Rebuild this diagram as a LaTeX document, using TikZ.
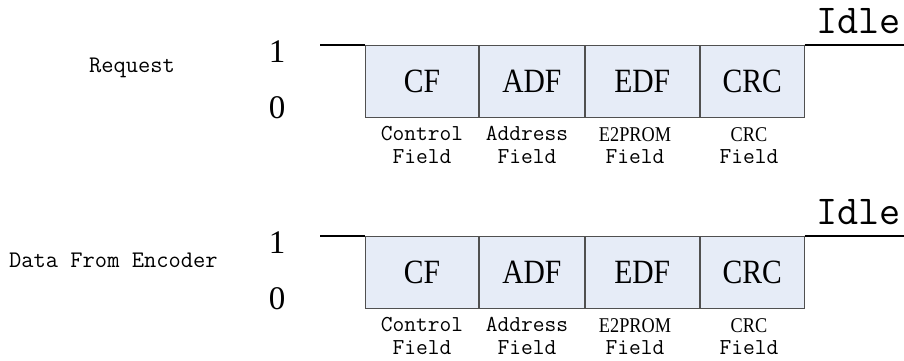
\documentclass[tikz,border=0pt]{standalone}
\usepackage{fontspec}
\setmainfont{Liberation Serif}
\newfontfamily\boxfont[FakeStretch=0.87]{Liberation Serif}
\definecolor{boxfill}{HTML}{E6ECF7}
\definecolor{boxline}{HTML}{505050}
\tikzset{
  fieldbox/.style={draw=boxline, line width=0.9pt, fill=boxfill, minimum height=72pt,
    inner sep=0pt, anchor=north west, font=\boxfont\fontsize{34}{34}\selectfont},
  sigline/.style={line width=2pt, black},
  levellabel/.style={font=\fontsize{33}{33}\selectfont, inner sep=0pt},
  rowlabel/.style={font=\ttfamily\fontsize{23.8}{26}\selectfont, inner sep=0pt, anchor=base west},
  idlelabel/.style={font=\ttfamily\fontsize{41}{44}\selectfont, inner sep=0pt, anchor=base west},
  fieldlabel/.style={font=\ttfamily\fontsize{22.8}{25}\selectfont, inner sep=0pt, anchor=base},
  fieldlabelserif/.style={font=\boxfont\fontsize{21}{23}\selectfont, inner sep=0pt, anchor=base},
}
\newcommand\framerow[5]{% #1 prefix, #2 y offset, #3 row name, #4 name x, #5 name baseline
  \node[rowlabel] (#1name) at (#4, #5) {#3};
  \node[levellabel] (#1one) at (277, #2+52) {1};
  \node[levellabel] (#1zero) at (277, #2+108) {0};
  \node[fieldbox, minimum width=113pt] (#1cf) at (365, #2+45) {CF};
  \node[fieldbox, minimum width=105pt] (#1adf) at (#1cf.north east) {ADF};
  \node[fieldbox, minimum width=114pt] (#1edf) at (#1adf.north east) {EDF};
  \node[fieldbox, minimum width=104pt] (#1crc) at (#1edf.north east) {CRC};
  \coordinate (#1start) at (320, #2+45);
  \coordinate (#1end) at (904, #2+45);
  \draw[sigline] (#1start) -- (#1cf.north west);
  \draw[sigline] (#1crc.north east) -- (#1end);
  \node[idlelabel] (#1idle) at (816, #2+33) {Idle};
  \node[fieldlabel] (#1cfa) at (422, #2+140) {Control};
  \node[fieldlabel] (#1cfb) at (422, #2+163) {Field};
  \node[fieldlabel] (#1adfa) at (527, #2+140) {Address};
  \node[fieldlabel] (#1adfb) at (527, #2+163) {Field};
  \node[fieldlabelserif] (#1edfa) at (635, #2+141) {E2PROM};
  \node[fieldlabel] (#1edfb) at (635, #2+163) {Field};
  \node[fieldlabelserif] (#1crca) at (749, #2+141) {CRC};
  \node[fieldlabel] (#1crcb) at (749, #2+163) {Field};
}
\begin{document}
\begin{tikzpicture}[x=1pt, y=-1pt]
  \useasboundingbox (0,0) rectangle (904,360);
  \framerow{a}{0}{Request}{89}{72}
  \framerow{b}{191}{Data From Encoder}{9}{267}
\end{tikzpicture}
\end{document}
